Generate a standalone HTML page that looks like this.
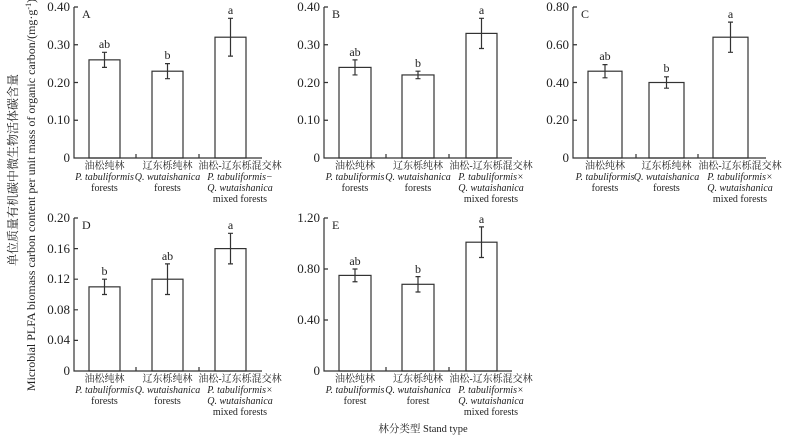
<!DOCTYPE html>
<html><head><meta charset="utf-8"><style>
body{margin:0;background:#fff}
svg{display:block}
text{font-family:"Liberation Serif","Noto Serif CJK SC",serif;fill:#222}
.t{font-size:13px;text-anchor:end}
.c{font-size:10px;text-anchor:middle}
.i{font-style:italic}
.l{font-size:12px;text-anchor:middle}
.p{font-size:12px}
line,rect,path{stroke:#333;stroke-width:1.2;fill:none}
</style></head><body>
<svg width="800" height="435" viewBox="0 0 800 435">
<text transform="translate(17,170) rotate(-90)" style="font-size:12px;text-anchor:middle">单位质量有机碳中微生物活体碳含量</text>
<text transform="translate(35,195) rotate(-90)" style="font-size:12px;text-anchor:middle">Microbial PLFA biomass carbon content per unit mass of organic carbon/(mg·g<tspan dy="-4" style="font-size:8px">-1</tspan><tspan dy="4">)</tspan></text>

<!-- Panel A -->
<path d="M74,7V158H262M78,7H74M78,44.75H74M78,82.5H74M78,120.25H74M136,158V154M199,158V154"/>
<text class="t" x="70" y="11">0.40</text><text class="t" x="70" y="49">0.30</text><text class="t" x="70" y="87">0.20</text><text class="t" x="70" y="124">0.10</text><text class="t" x="70" y="162">0</text>
<text class="p" x="82" y="18">A</text>
<rect x="89" y="59.85" width="31" height="98.15"/><rect x="152" y="71.2" width="31" height="86.8"/><rect x="215" y="37.2" width="31" height="120.8"/>
<path d="M104.5,67.4V52.3M102,67.4H107M102,52.3H107M167.5,78.7V63.6M165,78.7H170M165,63.6H170M230.5,56.1V18.3M228,56.1H233M228,18.3H233"/>
<text class="l" x="104.5" y="48">ab</text><text class="l" x="167.5" y="59">b</text><text class="l" x="230.5" y="14">a</text>
<text class="c" x="104.5" y="169">油松纯林</text><text class="c i" x="104.5" y="180">P. tabuliformis</text><text class="c" x="104.5" y="191">forests</text>
<text class="c" x="167.5" y="169">辽东栎纯林</text><text class="c i" x="167.5" y="180">Q. wutaishanica</text><text class="c" x="167.5" y="191">forests</text>
<text class="c" x="240" y="169">油松-辽东栎混交林</text><text class="c i" x="240" y="180">P. tabuliformis−</text><text class="c i" x="240" y="191">Q. wutaishanica</text><text class="c" x="240" y="202">mixed forests</text>

<!-- Panel B -->
<path d="M324,7V158H512M328,7H324M328,44.75H324M328,82.5H324M328,120.25H324M386,158V154M449,158V154"/>
<text class="t" x="320" y="11">0.40</text><text class="t" x="320" y="49">0.30</text><text class="t" x="320" y="87">0.20</text><text class="t" x="320" y="124">0.10</text><text class="t" x="320" y="162">0</text>
<text class="p" x="332" y="18">B</text>
<rect x="339" y="67.4" width="32" height="90.6"/><rect x="402" y="74.95" width="32" height="83.05"/><rect x="466" y="33.4" width="31" height="124.6"/>
<path d="M355,74.95V59.85M352.5,74.95H357.5M352.5,59.85H357.5M418,78.7V71.2M415.5,78.7H420.5M415.5,71.2H420.5M481.5,48.5V18.3M479,48.5H484M479,18.3H484"/>
<text class="l" x="355" y="56">ab</text><text class="l" x="418" y="67">b</text><text class="l" x="481.5" y="14">a</text>
<text class="c" x="355" y="169">油松纯林</text><text class="c i" x="355" y="180">P. tabuliformis</text><text class="c" x="355" y="191">forests</text>
<text class="c" x="418" y="169">辽东栎纯林</text><text class="c i" x="418" y="180">Q. wutaishanica</text><text class="c" x="418" y="191">forests</text>
<text class="c" x="491" y="169">油松-辽东栎混交林</text><text class="c i" x="491" y="180">P. tabuliformis×</text><text class="c i" x="491" y="191">Q. wutaishanica</text><text class="c" x="491" y="202">mixed forests</text>

<!-- Panel C -->
<path d="M573,7V158H766M577,7H573M577,44.75H573M577,82.5H573M577,120.25H573M636,158V154M698,158V154"/>
<text class="t" x="569" y="11">0.80</text><text class="t" x="569" y="49">0.60</text><text class="t" x="569" y="87">0.40</text><text class="t" x="569" y="124">0.20</text><text class="t" x="569" y="162">0</text>
<text class="p" x="581" y="18">C</text>
<rect x="588" y="71.2" width="34" height="86.8"/><rect x="649" y="82.5" width="35" height="75.5"/><rect x="713" y="37.2" width="35" height="120.8"/>
<path d="M605,77.8V64.6M602.5,77.8H607.5M602.5,64.6H607.5M666.5,88.2V76.8M664,88.2H669M664,76.8H669M730.5,52.3V22.1M728,52.3H733M728,22.1H733"/>
<text class="l" x="605" y="60">ab</text><text class="l" x="666.5" y="72">b</text><text class="l" x="730.5" y="18">a</text>
<text class="c" x="605" y="169">油松纯林</text><text class="c i" x="605" y="180">P. tabuliformis</text><text class="c" x="605" y="191">forests</text>
<text class="c" x="666.5" y="169">辽东栎纯林</text><text class="c i" x="666.5" y="180">Q. wutaishanica</text><text class="c" x="666.5" y="191">forests</text>
<text class="c" x="740" y="169">油松-辽东栎混交林</text><text class="c i" x="740" y="180">P. tabuliformis×</text><text class="c i" x="740" y="191">Q. wutaishanica</text><text class="c" x="740" y="202">mixed forests</text>

<!-- Panel D -->
<path d="M74,218V371H262M78,218H74M78,248.6H74M78,279.2H74M78,309.8H74M78,340.4H74M136,371V367M199,371V367"/>
<text class="t" x="70" y="222">0.20</text><text class="t" x="70" y="253">0.16</text><text class="t" x="70" y="283">0.12</text><text class="t" x="70" y="314">0.08</text><text class="t" x="70" y="344">0.04</text><text class="t" x="70" y="375">0</text>
<text class="p" x="82" y="229">D</text>
<rect x="89" y="286.85" width="31" height="84.15"/><rect x="152" y="279.2" width="31" height="91.8"/><rect x="215" y="248.6" width="31" height="122.4"/>
<path d="M104.5,294.5V279.2M102,294.5H107M102,279.2H107M167.5,294.5V263.9M165,294.5H170M165,263.9H170M230.5,263.9V233.3M228,263.9H233M228,233.3H233"/>
<text class="l" x="104.5" y="275">b</text><text class="l" x="167.5" y="260">ab</text><text class="l" x="230.5" y="229">a</text>
<text class="c" x="104.5" y="382">油松纯林</text><text class="c i" x="104.5" y="393">P. tabuliformis</text><text class="c" x="104.5" y="404">forests</text>
<text class="c" x="167.5" y="382">辽东栎纯林</text><text class="c i" x="167.5" y="393">Q. wutaishanica</text><text class="c" x="167.5" y="404">forests</text>
<text class="c" x="240" y="382">油松-辽东栎混交林</text><text class="c i" x="240" y="393">P. tabuliformis×</text><text class="c i" x="240" y="404">Q. wutaishanica</text><text class="c" x="240" y="415">mixed forests</text>

<!-- Panel E -->
<path d="M324,218V371H512M328,218H324M328,269H324M328,320H324M386,371V367M449,371V367"/>
<text class="t" x="320" y="222">1.20</text><text class="t" x="320" y="273">0.80</text><text class="t" x="320" y="324">0.40</text><text class="t" x="320" y="375">0</text>
<text class="p" x="332" y="229">E</text>
<rect x="339" y="275.4" width="32" height="95.6"/><rect x="402" y="284.3" width="32" height="86.7"/><rect x="466" y="242.2" width="31" height="128.8"/>
<path d="M355,281.75V269M352.5,281.75H357.5M352.5,269H357.5M418,292V276.65M415.5,292H420.5M415.5,276.65H420.5M481.5,257.5V226.9M479,257.5H484M479,226.9H484"/>
<text class="l" x="355" y="265">ab</text><text class="l" x="418" y="273">b</text><text class="l" x="481.5" y="223">a</text>
<text class="c" x="355" y="382">油松纯林</text><text class="c i" x="355" y="393">P. tabuliformis</text><text class="c" x="355" y="404">forest</text>
<text class="c" x="418" y="382">辽东栎纯林</text><text class="c i" x="418" y="393">Q. wutaishanica</text><text class="c" x="418" y="404">forest</text>
<text class="c" x="491" y="382">油松-辽东栎混交林</text><text class="c i" x="491" y="393">P. tabuliformis×</text><text class="c i" x="491" y="404">Q. wutaishanica</text><text class="c" x="491" y="415">mixed forests</text>

<text class="c" x="423" y="432" style="font-size:10.5px">林分类型 Stand type</text>
</svg>
</body></html>
